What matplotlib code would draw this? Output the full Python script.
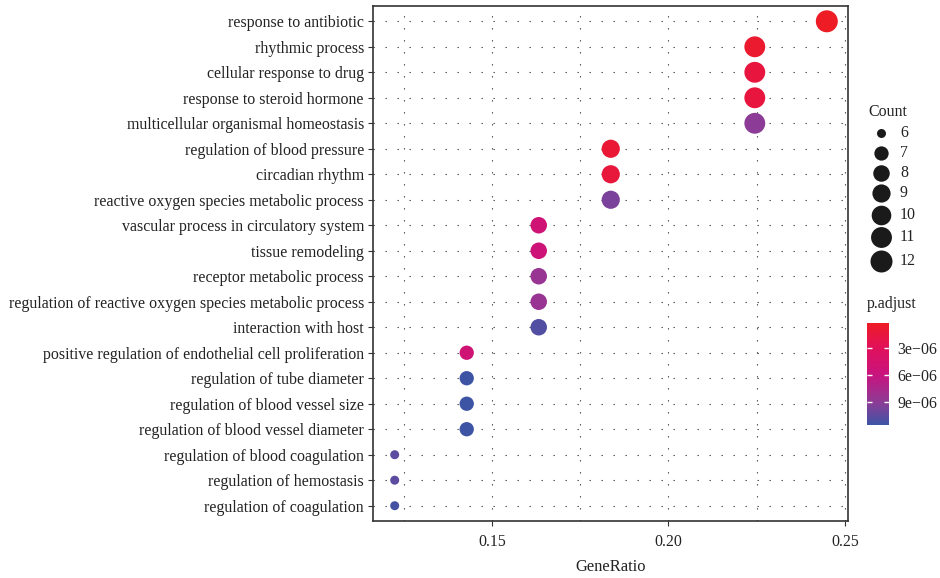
import numpy as np
import matplotlib
matplotlib.use("Agg")
import matplotlib.pyplot as plt
from matplotlib.colors import LinearSegmentedColormap, Normalize

plt.rcParams["font.family"] = ["Liberation Serif", "DejaVu Serif"]

# === Data (top to bottom, as in the chart) ===
terms = [
    "response to antibiotic",
    "rhythmic process",
    "cellular response to drug",
    "response to steroid hormone",
    "multicellular organismal homeostasis",
    "regulation of blood pressure",
    "circadian rhythm",
    "reactive oxygen species metabolic process",
    "vascular process in circulatory system",
    "tissue remodeling",
    "receptor metabolic process",
    "regulation of reactive oxygen species metabolic process",
    "interaction with host",
    "positive regulation of endothelial cell proliferation",
    "regulation of tube diameter",
    "regulation of blood vessel size",
    "regulation of blood vessel diameter",
    "regulation of blood coagulation",
    "regulation of hemostasis",
    "regulation of coagulation",
]
counts = [12, 11, 11, 11, 11, 9, 9, 9, 8, 8, 8, 8, 8, 7, 7, 7, 7, 6, 6, 6]
gene_ratio = [c / 49 for c in counts]
p_adjust = [2.5e-7, 8e-7, 1.6e-6, 1.6e-6, 9.0e-6, 1.1e-6, 1.4e-6, 9.6e-6,
            5.2e-6, 5.4e-6, 8.4e-6, 8.4e-6, 10.8e-6, 5.2e-6, 11.5e-6,
            11.5e-6, 11.5e-6, 10.5e-6, 10.5e-6, 11.2e-6]
legend_counts = [6, 7, 8, 9, 10, 11, 12]
cbar_ticks = [3e-6, 6e-6, 9e-6]
cbar_labels = ["3e\u221206", "6e\u221206", "9e\u221206"]

FS = 11.4

# red (low p) -> magenta -> purple -> blue (high p)
cmap = LinearSegmentedColormap.from_list(
    "padj", [(0.0, "#EE1C25"), (0.24, "#E1105A"), (0.51, "#C8147F"),
             (0.78, "#8C3C96"), (1.0, "#3D54A5")])
norm = Normalize(vmin=min(p_adjust), vmax=max(p_adjust))

PX = 72 / 100  # px -> pt


def diam_px(c):
    # ggplot area scale: diameter linear in sqrt of rescaled value
    return 9 + 13 * np.sqrt((c - 6) / 6)


fig = plt.figure(figsize=(9.4, 5.78), dpi=100)
ax = fig.add_axes([373 / 940, 1 - 521 / 578, 475 / 940, 515 / 578])

y = np.arange(len(terms))[::-1] + 1
sizes = [(diam_px(c) * PX) ** 2 for c in counts]
ax.scatter(gene_ratio, y, s=sizes, c=p_adjust, cmap=cmap, norm=norm,
           linewidths=0, zorder=3)

ax.set_xlim(0.1163, 0.2509)
ax.set_ylim(0.4, len(terms) + 0.6)
ax.set_yticks(y)
ax.set_yticklabels(terms, fontsize=FS, color="#222222")
ax.set_xticks([0.15, 0.20, 0.25])
ax.set_xticklabels(["0.15", "0.20", "0.25"], fontsize=FS, color="#222222")
ax.set_xticks([0.125, 0.175, 0.225], minor=True)
ax.tick_params(axis="both", which="major", direction="out", length=3.5,
               width=0.8, color="#333333", pad=3)
ax.tick_params(axis="x", which="major", pad=6)
ax.tick_params(axis="x", which="minor", length=0)
ax.set_xlabel("GeneRatio", fontsize=FS + 0.5, color="#222222", labelpad=6)

grid_kw = dict(color="#444444", linewidth=0.8, linestyle=(0, (1.2, 9.6)))
ax.grid(True, which="major", **grid_kw)
ax.grid(True, which="minor", axis="x", **grid_kw)
ax.set_axisbelow(True)
for sp in ax.spines.values():
    sp.set_color("#333333")
    sp.set_linewidth(1.2)

# === Count legend ===
fig.text(868 / 940, 1 - 112 / 578, "Count", fontsize=FS, color="#222222",
         va="center", ha="left")
lax = fig.add_axes([0, 0, 1, 1], facecolor="none")
lax.set_xlim(0, 940)
lax.set_ylim(578, 0)
lax.axis("off")
yc = 133.0
prev = None
for c in legend_counts:
    h = max(diam_px(c) + 2.5, 20)
    if prev is not None:
        yc += (prev + h) / 2
    prev = h
    lax.scatter([881], [yc], s=(diam_px(c) * PX) ** 2, color="#1a1a1a",
                linewidths=0)
    lax.text(900, yc, str(c), fontsize=FS, color="#222222",
             va="center", ha="left")

# === p.adjust colorbar ===
fig.text(867 / 940, 1 - 304 / 578, "p.adjust", fontsize=FS,
         color="#222222", va="center", ha="left")
cax = fig.add_axes([867 / 940, 1 - 425 / 578, 22 / 940, 102 / 578])
sm = plt.cm.ScalarMappable(norm=norm, cmap=cmap)
cb = fig.colorbar(sm, cax=cax, ticks=cbar_ticks)
cb.ax.invert_yaxis()
cb.ax.set_yticklabels(cbar_labels, fontsize=FS, color="#222222")
cb.ax.tick_params(which="both", direction="in", length=3.5, width=1,
                  color="white", left=True, right=True, pad=6)
cb.ax.minorticks_off()
cb.outline.set_visible(False)

fig.savefig("out.png", dpi=100)
